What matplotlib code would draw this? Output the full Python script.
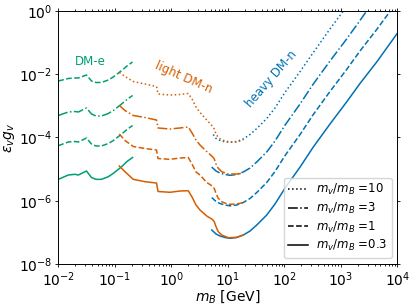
import numpy as np
import matplotlib
matplotlib.use("Agg")
import matplotlib.pyplot as plt
from matplotlib.ticker import FixedLocator, NullLocator

# colours (Okabe-Ito like)
c_e = '#009E73'
c_light = '#D55E00'
c_heavy = '#0072B2'

ratios = ['10', '3', '1', '0.3']
styles = [':', '-.', '--', '-']

# DM-e (green), one list per m_v/m_B ratio
m_e = [0.01, 0.0150, 0.0197, 0.0226, 0.0315, 0.0387, 0.0465, 0.058, 0.0766, 0.094, 0.132, 0.164, 0.206]
e_10 = [6.11e-3, 7.33e-3, 7.6e-3, 7.6e-3, 9.46e-3, 6.11e-3, 5.48e-3, 5.48e-3, 6.57e-3, 8.18e-3, 1.31e-2, 1.82e-2, 2.44e-2]
e_3 = [4.96e-4, 6.4e-4, 6.63e-4, 6.4e-4, 8.55e-4, 5.53e-4, 4.78e-4, 4.78e-4, 5.73e-4, 7.13e-4, 1.15e-3, 1.59e-3, 2.13e-3]
e_1 = [5.5e-5, 7.2e-5, 7.46e-5, 7.2e-5, 9.6e-5, 6.2e-5, 5.38e-5, 5.38e-5, 6.45e-5, 8.0e-5, 1.29e-4, 1.79e-4, 2.39e-4]
e_03 = [4.75e-6, 6.5e-6, 6.85e-6, 6.5e-6, 8.7e-6, 5.4e-6, 4.75e-6, 4.75e-6, 5.75e-6, 7.35e-6, 1.19e-5, 1.74e-5, 2.33e-5]

# light DM-n (orange)
m_light = [0.120, 0.151, 0.212, 0.342, 0.546, 0.581, 0.946, 1.42, 1.99, 2.32, 2.73, 3.21,
           4.22, 5.30, 5.75, 6.16, 6.76, 7.78, 10.2, 14.3, 18.7]
light_10 = [1.14e-2, 8.49e-3, 5.89e-3, 4.91e-3, 4.09e-3, 2.37e-3, 2.2e-3, 2.29e-3, 2.46e-3, 1.65e-3, 9.2e-4,
            6.17e-4, 3.57e-4, 2.31e-4, 1.85e-4, 1.29e-4, 9.98e-5, 8.32e-5, 7.36e-5, 7.2e-5, 8.32e-5]
light_3 = [1.03e-3, 7.13e-4, 4.96e-4, 4.28e-4, 3.57e-4, 2.0e-4, 1.85e-4, 2.0e-4, 2.14e-4, 1.39e-4, 8.32e-5,
           5.78e-5, 3.6e-5, 2.5e-5, 2.09e-5, 1.45e-5, 1.06e-5, 8.28e-6, 7.0e-6, 7.0e-6, 7.53e-6]
light_1 = [1.29e-4, 8.03e-5, 5.19e-5, 4.48e-5, 4.02e-5, 2.16e-5, 2.04e-5, 2.24e-5, 2.33e-5, 1.45e-5, 8.1e-6,
           6.5e-6, 3.77e-6, 2.92e-6, 2.43e-6, 1.69e-6, 1.19e-6, 9.3e-7, 7.7e-7, 7.87e-7, 8.8e-7]
light_03 = [1.25e-5, 8.28e-6, 4.75e-6, 4.0e-6, 3.63e-6, 1.96e-6, 1.85e-6, 2.03e-6, 2.07e-6, 1.31e-6, 7.33e-7,
            5.09e-7, 3.29e-7, 2.58e-7, 2.17e-7, 1.51e-7, 1.05e-7, 8.24e-8, 6.77e-8, 6.97e-8, 8.24e-8]

# heavy DM-n (blue), each curve has its own mass grid
m_heavy_10 = [5.5, 6.17, 7.26, 8.91, 10.9, 14.3, 18.7, 24.6, 32.4, 48.6, 68.1, 102, 189, 324, 640, 1100, 1200]
heavy_10 = [1.24e-4, 9.29e-5, 8.03e-5, 7.3e-5, 7.04e-5, 7.46e-5, 8.95e-5, 1.24e-4, 1.92e-4, 3.98e-4, 8.55e-4,
            2.65e-3, 1.21e-2, 4.86e-2, 0.27, 1.0, 1.25]
m_heavy_3 = [5.18, 6.17, 7.26, 8.91, 10.9, 14.3, 18.7, 24.6, 32.4, 48.6, 68.1, 102, 189, 324, 640, 1260, 2170, 3000]
heavy_3 = [1.16e-5, 8.7e-6, 7.53e-6, 6.75e-6, 6.37e-6, 6.75e-6, 8.1e-6, 1.08e-5, 1.68e-5, 3.48e-5, 7.74e-5,
           2.43e-4, 1.15e-3, 4.91e-3, 2.62e-2, 0.13, 0.50, 1.15]
m_heavy_1 = [5.18, 6.17, 7.26, 8.91, 10.9, 14.3, 18.7, 24.6, 32.4, 48.6, 68.1, 102, 189, 324, 640, 1260, 2170, 4290, 8000]
heavy_1 = [1.26e-6, 9.45e-7, 8.16e-7, 7.32e-7, 6.9e-7, 7.32e-7, 8.79e-7, 1.18e-6, 1.82e-6, 3.77e-6, 8.4e-6,
           2.64e-5, 1.24e-4, 5.33e-4, 2.85e-3, 1.41e-2, 5.43e-2, 0.26, 1.18]
m_heavy_03 = [5.18, 6.17, 7.26, 8.91, 10.9, 14.3, 18.7, 24.6, 32.4, 48.6, 68.1, 102, 189, 324, 640, 1260, 2170, 4290, 10000]
heavy_03 = [1.19e-7, 8.87e-8, 7.66e-8, 6.87e-8, 6.48e-8, 6.87e-8, 8.24e-8, 1.10e-7, 1.71e-7, 3.53e-7, 7.87e-7,
            2.47e-6, 1.16e-5, 5.0e-5, 2.67e-4, 1.33e-3, 5.09e-3, 2.44e-2, 0.2]

y_ticks = [1e-8, 1e-6, 1e-4, 1e-2, 1e0]

e_curves = [e_10, e_3, e_1, e_03]
light_curves = [light_10, light_3, light_1, light_03]
heavy_m = [m_heavy_10, m_heavy_3, m_heavy_1, m_heavy_03]
heavy_curves = [heavy_10, heavy_3, heavy_1, heavy_03]

fig = plt.figure(figsize=(4.15, 3.06), dpi=100)
ax = fig.add_axes([0.1405, 0.1373, 0.8173, 0.8268])

lw = 1.1
for i in range(4):
    ax.plot(heavy_m[i], heavy_curves[i], color=c_heavy, linestyle=styles[i], lw=lw)
for i in range(4):
    # the top DM-e curve is drawn dashed in the original
    ls = '--' if i == 0 else styles[i]
    ax.plot(m_e, e_curves[i], color=c_e, linestyle=ls, lw=lw)
for i in range(4):
    ax.plot(m_light, light_curves[i], color=c_light, linestyle=styles[i], lw=lw)

# legend with black handles
for i in range(4):
    ax.plot([], [], color='k', linestyle=styles[i], lw=lw, label=r'$m_v/m_B$ =' + ratios[i])
ax.legend(loc='lower right', fontsize=8.5, handlelength=1.7, labelspacing=0.3,
          handletextpad=0.6, borderpad=0.4)

ax.text(0.0364, 0.0244, 'DM-e', color=c_e, fontsize=8.5, ha='center', va='center')
ax.text(1.67, 7.6e-3, 'light DM-n', color=c_light, fontsize=8.5, ha='center', va='center', rotation=-24)
ax.text(58, 7.1e-3, 'heavy DM-n', color=c_heavy, fontsize=8.5, ha='center', va='center', rotation=49)

ax.set_xscale('log')
ax.set_yscale('log')
ax.set_xlim(1e-2, 1e4)
ax.set_ylim(1e-8, 1)
ax.yaxis.set_major_locator(FixedLocator(y_ticks))
ax.yaxis.set_minor_locator(NullLocator())
ax.tick_params(which='both', top=True, right=True, labelsize=10, width=0.6)
ax.tick_params(which='major', length=2.4, pad=2.0)
ax.tick_params(which='minor', length=1.4)
for sp in ax.spines.values():
    sp.set_linewidth(0.7)
ax.set_xlabel(r'$m_B$ [GeV]', fontsize=10, labelpad=0)
ax.set_ylabel(r'$\epsilon_v g_v$', fontsize=10, labelpad=1)

plt.savefig("out.png", dpi=100)
